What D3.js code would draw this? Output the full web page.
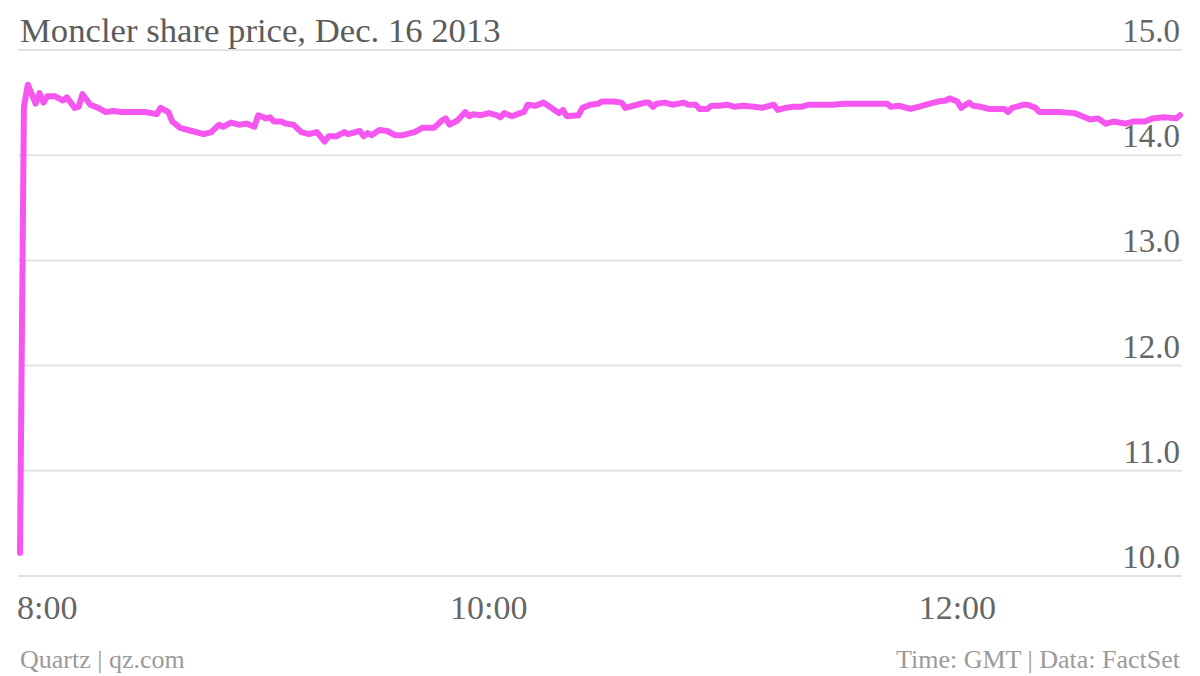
<!DOCTYPE html>
<html>
<head>
<meta charset="utf-8">
<script src="https://cdn.jsdelivr.net/npm/d3@7"></script>
<style>
  html, body { margin: 0; padding: 0; background: #fff; }
  svg { display: block; }
  text { font-family: "Liberation Serif", "DejaVu Serif", serif; }
</style>
</head>
<body>
<svg id="chart" width="1200" height="676"></svg>
<script>
// ---- data ----
const title = "Moncler share price, Dec. 16 2013";
const sourceLeft = "Quartz | qz.com";
const sourceRight = "Time: GMT | Data: FactSet";
// minutes after 8:00 GMT
const minutesAfterOpen = [0,1,2,4,5,6,7,9,11,12,14,15,16,18,20,22,24,26,30,32,35,36,38,39,41,44,47,49,51,52,54,56,58,60,61,63,64,65,67,68,70,72,74,76,78,79,81,83,84,87,88,89,90,92,94,96,98,101,103,106,108,109,110,112,114,115,116,118,120,122,123,124,126,128,129,130,132,134,136,138,139,140,143,144,146,148,149,152,154,155,157,160,161,162,163,165,167,170,171,173,174,176,177,179,181,183,185,188,190,193,194,196,198,200,202,205,208,211,213,216,219,220,222,223,225,228,230,232,235,237,238,240,241,243,244,246,248,252,253,254,257,258,260,261,264,266,270,272,274,276,278,280,283,285,288,290,293,296,297];
const prices = [10.22,14.46,14.67,14.49,14.59,14.50,14.56,14.56,14.52,14.55,14.45,14.46,14.58,14.48,14.45,14.41,14.42,14.41,14.41,14.41,14.39,14.45,14.41,14.32,14.26,14.23,14.20,14.22,14.29,14.27,14.31,14.29,14.30,14.27,14.38,14.35,14.36,14.32,14.32,14.30,14.29,14.22,14.20,14.22,14.13,14.18,14.18,14.22,14.20,14.23,14.18,14.21,14.19,14.24,14.23,14.19,14.19,14.22,14.26,14.26,14.33,14.35,14.29,14.33,14.41,14.37,14.39,14.38,14.40,14.38,14.36,14.40,14.37,14.40,14.41,14.48,14.47,14.50,14.45,14.40,14.43,14.37,14.38,14.45,14.48,14.49,14.51,14.51,14.50,14.45,14.47,14.50,14.50,14.46,14.49,14.50,14.48,14.50,14.48,14.48,14.44,14.44,14.47,14.47,14.48,14.46,14.47,14.46,14.45,14.48,14.43,14.45,14.46,14.46,14.48,14.48,14.48,14.49,14.49,14.49,14.49,14.49,14.49,14.46,14.47,14.44,14.46,14.48,14.51,14.52,14.54,14.51,14.45,14.50,14.47,14.46,14.44,14.44,14.41,14.45,14.48,14.48,14.45,14.41,14.41,14.41,14.40,14.37,14.34,14.35,14.30,14.32,14.30,14.32,14.32,14.35,14.36,14.35,14.38];
const yTicks = [10, 11, 12, 13, 14, 15];
const xTickLabels = ["8:00", "10:00", "12:00"];
const xTickHours = [8, 10, 12];

// ---- build ----
const data = minutesAfterOpen.map((m, i) => ({ t: new Date(2013, 11, 16, 8, m), v: prices[i] }));

const svg = d3.select("#chart");
const plotLeft = 20, plotRight = 1180;
const plotTop = 50, plotBottom = 576;

const x = d3.scaleTime()
  .domain(d3.extent(data, d => d.t))
  .range([plotLeft, plotRight]);
const y = d3.scaleLinear().domain([10, 15]).range([plotBottom, plotTop]);

// gridlines
svg.append("g").selectAll("line").data(yTicks).join("line")
  .attr("x1", 18).attr("x2", 1182)
  .attr("y1", d => y(d)).attr("y2", d => y(d))
  .attr("stroke", "#e3e3e3").attr("stroke-width", 2);

// y labels
svg.append("g").selectAll("text").data(yTicks).join("text")
  .attr("x", 1180).attr("y", d => y(d) - 8)
  .attr("text-anchor", "end")
  .attr("fill", "#666").attr("font-size", 33)
  .text(d => d3.format(".1f")(d));

// line
svg.append("path").datum(data)
  .attr("fill", "none")
  .attr("stroke", "#f556ef")
  .attr("stroke-width", 6)
  .attr("stroke-linejoin", "round")
  .attr("stroke-linecap", "round")
  .attr("d", d3.line().x(d => x(d.t)).y(d => y(d.v)));

// x labels
svg.append("g").selectAll("text").data(xTickHours).join("text")
  .attr("x", (d, i) => i === 0 ? 17 : x(new Date(2013, 11, 16, d, 0)))
  .attr("y", 619)
  .attr("text-anchor", (d, i) => i === 0 ? "start" : "middle")
  .attr("fill", "#666").attr("font-size", 34)
  .text((d, i) => xTickLabels[i]);

// title
svg.append("text").attr("x", 20).attr("y", 42)
  .attr("fill", "#5c5c5c").attr("font-size", 34.7)
  .text(title);

// footer
svg.append("text").attr("x", 20).attr("y", 668)
  .attr("fill", "#9a9a9a").attr("font-size", 26)
  .text(sourceLeft);
svg.append("text").attr("x", 1180).attr("y", 668)
  .attr("text-anchor", "end")
  .attr("fill", "#9a9a9a").attr("font-size", 26)
  .text(sourceRight);
</script>
</body>
</html>
